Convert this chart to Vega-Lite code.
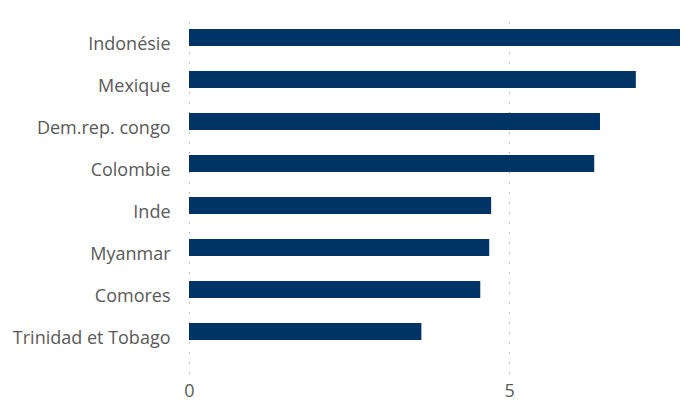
{
  "$schema": "https://vega.github.io/schema/vega-lite/v6.json",
  "width": 491,
  "height": 353,
  "autosize": {"type": "none"},
  "padding": {"left": 189, "top": 20, "right": 6, "bottom": 30},
  "background": "white",
  "data": {
    "values": [
      {"pays": "Indonésie", "valeur": 7.67},
      {"pays": "Mexique", "valeur": 6.98},
      {"pays": "Dem.rep. congo", "valeur": 6.42},
      {"pays": "Colombie", "valeur": 6.33},
      {"pays": "Inde", "valeur": 4.72},
      {"pays": "Myanmar", "valeur": 4.69},
      {"pays": "Comores", "valeur": 4.55},
      {"pays": "Trinidad et Tobago", "valeur": 3.63}
    ]
  },
  "mark": {"type": "bar", "color": "#003366"},
  "encoding": {
    "y": {
      "field": "pays",
      "type": "nominal",
      "sort": null,
      "scale": {"paddingInner": 0.595, "paddingOuter": 0.5, "align": 0.214},
      "axis": {
        "title": null,
        "domain": false,
        "ticks": false,
        "grid": false,
        "labelPadding": 19,
        "labelOffset": 8,
        "labelFont": "Open Sans",
        "labelFontSize": 18,
        "labelColor": "#595959",
        "labelLimit": 300
      }
    },
    "x": {
      "field": "valeur",
      "type": "quantitative",
      "scale": {"domain": [0, 7.67], "nice": false, "zero": true},
      "axis": {
        "title": null,
        "domain": false,
        "ticks": false,
        "values": [0, 5],
        "grid": true,
        "gridColor": "#b0b0b0",
        "gridWidth": 1,
        "gridDash": [1.5, 8.5],
        "labelPadding": 9,
        "labelFont": "Open Sans",
        "labelFontSize": 18,
        "labelColor": "#595959",
        "labelFlush": false
      }
    }
  },
  "config": {"view": {"stroke": null}}
}
